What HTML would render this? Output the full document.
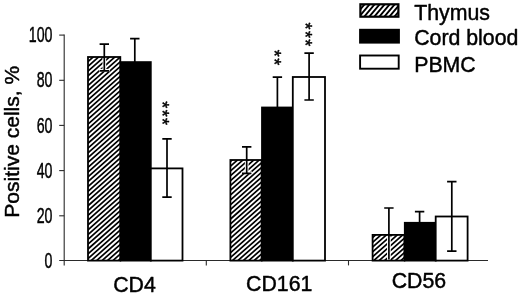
<!DOCTYPE html>
<html><head><meta charset="utf-8"><title>Positive cells chart</title>
<style>
html,body{margin:0;padding:0;background:#fff;}
body{width:520px;height:295px;overflow:hidden;}
svg{display:block;}
</style></head>
<body>
<svg width="520" height="295" viewBox="0 0 520 295">
<rect width="520" height="295" fill="#fff"/>
<g stroke="#2a2a2a" stroke-width="1.1" fill="none">
<path d="M64.2 34.6V265.6"/>
<path d="M59.2 260.5H488"/>
<path d="M59.2 35.1H64.2"/>
<path d="M59.2 80.3H64.2"/>
<path d="M59.2 125.4H64.2"/>
<path d="M59.2 170.6H64.2"/>
<path d="M59.2 215.8H64.2"/>
<path d="M206.3 260.5V265.4"/>
<path d="M348.5 260.5V265.4"/>
</g>
<rect x="88.00" y="57.00" width="32.30" height="203.60" fill="#fff"/>
<clipPath id="c1"><rect x="88.00" y="57.00" width="32.30" height="203.60"/></clipPath><path clip-path="url(#c1)" d="M-34.68 160.46L122.71 21.21M-32.29 163.16L125.10 23.91M-29.90 165.85L127.49 26.60M-27.52 168.55L129.87 29.30M-25.13 171.24L132.26 32.00M-22.75 173.94L134.64 34.69M-20.36 176.64L137.03 37.39M-17.98 179.33L139.41 40.09M-15.59 182.03L141.80 42.78M-13.21 184.72L144.18 45.48M-10.82 187.42L146.57 48.17M-8.44 190.12L148.95 50.87M-6.05 192.81L151.34 53.57M-3.66 195.51L153.73 56.26M-1.28 198.21L156.11 58.96M1.11 200.90L158.50 61.66M3.49 203.60L160.88 64.35M5.88 206.29L163.27 67.05M8.26 208.99L165.65 69.74M10.65 211.69L168.04 72.44M13.03 214.38L170.42 75.14M15.42 217.08L172.81 77.83M17.80 219.78L175.19 80.53M20.19 222.47L177.58 83.23M22.58 225.17L179.97 85.92M24.96 227.86L182.35 88.62M27.35 230.56L184.74 91.31M29.73 233.26L187.12 94.01M32.12 235.95L189.51 96.71M34.50 238.65L191.89 99.40M36.89 241.35L194.28 102.10M39.27 244.04L196.66 104.80M41.66 246.74L199.05 107.49M44.04 249.43L201.43 110.19M46.43 252.13L203.82 112.88M48.81 254.83L206.21 115.58M51.20 257.52L208.59 118.28M53.59 260.22L210.98 120.97M55.97 262.92L213.36 123.67M58.36 265.61L215.75 126.37M60.74 268.31L218.13 129.06M63.13 271.00L220.52 131.76M65.51 273.70L222.90 134.45M67.90 276.40L225.29 137.15M70.28 279.09L227.67 139.85M72.67 281.79L230.06 142.54M75.05 284.49L232.44 145.24M77.44 287.18L234.83 147.93M79.83 289.88L237.22 150.63M82.21 292.57L239.60 153.33M84.60 295.27L241.99 156.02M86.98 297.97L244.37 158.72" stroke="#000" stroke-width="1.70" fill="none"/>
<rect x="88.00" y="57.00" width="32.30" height="203.60" fill="none" stroke="#000" stroke-width="1.80"/>
<rect x="119.80" y="61.20" width="31.90" height="200.30" fill="#000"/>
<rect x="150.80" y="168.40" width="31.70" height="92.20" fill="#fff" stroke="#000" stroke-width="1.80"/>
<rect x="230.40" y="160.00" width="31.20" height="100.60" fill="#fff"/>
<clipPath id="c4"><rect x="230.40" y="160.00" width="31.20" height="100.60"/></clipPath><path clip-path="url(#c4)" d="M169.21 206.00L251.09 133.55M171.59 208.69L253.47 136.25M173.98 211.39L255.86 138.95M176.36 214.08L258.24 141.64M178.75 216.78L260.63 144.34M181.13 219.48L263.01 147.03M183.52 222.17L265.40 149.73M185.90 224.87L267.78 152.43M188.29 227.57L270.17 155.12M190.67 230.26L272.56 157.82M193.06 232.96L274.94 160.52M195.44 235.65L277.33 163.21M197.83 238.35L279.71 165.91M200.22 241.05L282.10 168.60M202.60 243.74L284.48 171.30M204.99 246.44L286.87 174.00M207.37 249.14L289.25 176.69M209.76 251.83L291.64 179.39M212.14 254.53L294.02 182.09M214.53 257.22L296.41 184.78M216.91 259.92L298.79 187.48M219.30 262.62L301.18 190.17M221.68 265.31L303.57 192.87M224.07 268.01L305.95 195.57M226.46 270.71L308.34 198.26M228.84 273.40L310.72 200.96M231.23 276.10L313.11 203.66M233.61 278.79L315.49 206.35M236.00 281.49L317.88 209.05M238.38 284.19L320.26 211.74M240.77 286.88L322.65 214.44" stroke="#000" stroke-width="1.70" fill="none"/>
<rect x="230.40" y="160.00" width="31.20" height="100.60" fill="none" stroke="#000" stroke-width="1.80"/>
<rect x="261.10" y="106.60" width="32.60" height="154.90" fill="#000"/>
<rect x="292.80" y="77.00" width="32.20" height="183.60" fill="#fff" stroke="#000" stroke-width="1.80"/>
<rect x="372.60" y="234.90" width="31.80" height="25.70" fill="#fff"/>
<clipPath id="c7"><rect x="372.60" y="234.90" width="31.80" height="25.70"/></clipPath><path clip-path="url(#c7)" d="M354.87 243.61L388.49 213.87M357.26 246.31L390.88 216.57M359.64 249.00L393.26 219.26M362.03 251.70L395.65 221.96M364.41 254.40L398.03 224.65M366.80 257.09L400.42 227.35M369.19 259.79L402.80 230.05M371.57 262.49L405.19 232.74M373.96 265.18L407.57 235.44M376.34 267.88L409.96 238.13M378.73 270.57L412.35 240.83M381.11 273.27L414.73 243.53M383.50 275.97L417.12 246.22M385.88 278.66L419.50 248.92M388.27 281.36L421.89 251.62" stroke="#000" stroke-width="1.70" fill="none"/>
<rect x="372.60" y="234.90" width="31.80" height="25.70" fill="none" stroke="#000" stroke-width="1.80"/>
<rect x="403.90" y="221.90" width="32.70" height="39.60" fill="#000"/>
<rect x="435.70" y="216.50" width="31.90" height="44.10" fill="#fff" stroke="#000" stroke-width="1.80"/>
<path d="M104.30 58.00V70.80" stroke="#fff" stroke-width="3.7" fill="none"/>
<path d="M99.00 70.20H109.60" stroke="#fff" stroke-width="2.6" fill="none"/>
<path d="M99.60 44.20H109.00M104.30 44.20V70.80M99.60 70.80H109.00" stroke="#000" stroke-width="1.7" fill="none"/>
<path d="M130.10 38.70H139.50M134.80 38.70V68.70" stroke="#000" stroke-width="1.7" fill="none"/>
<path d="M162.30 138.80H171.70M167.00 138.80V197.10M162.30 197.10H171.70" stroke="#000" stroke-width="1.7" fill="none"/>
<path d="M246.70 161.00V173.40" stroke="#fff" stroke-width="3.7" fill="none"/>
<path d="M241.40 172.80H252.00" stroke="#fff" stroke-width="2.6" fill="none"/>
<path d="M242.00 146.80H251.40M246.70 146.80V173.40M242.00 173.40H251.40" stroke="#000" stroke-width="1.7" fill="none"/>
<path d="M272.70 77.20H282.10M277.40 77.20V107.20" stroke="#000" stroke-width="1.7" fill="none"/>
<path d="M304.40 53.10H313.80M309.10 53.10V100.00M304.40 100.00H313.80" stroke="#000" stroke-width="1.7" fill="none"/>
<path d="M388.90 236.30V259.50" stroke="#fff" stroke-width="3.7" fill="none"/>
<path d="M384.20 208.00H393.60M388.90 208.00V259.50" stroke="#000" stroke-width="1.7" fill="none"/>
<path d="M414.90 211.70H424.30M419.60 211.70V241.70" stroke="#000" stroke-width="1.7" fill="none"/>
<path d="M447.10 181.70H456.50M451.80 181.70V251.20M447.10 251.20H456.50" stroke="#000" stroke-width="1.7" fill="none"/>
<rect x="360.4" y="4.3" width="38.0" height="12.4" fill="#fff"/>
<clipPath id="cl"><rect x="360.40" y="4.30" width="38.00" height="12.40"/></clipPath><path clip-path="url(#cl)" d="M347.62 12.53L375.89 -21.15M350.57 15.01L378.83 -18.68M353.52 17.48L381.78 -16.20M356.47 19.96L384.73 -13.73M359.42 22.43L387.68 -11.25M362.37 24.91L390.63 -8.78M365.32 27.38L393.58 -6.30M368.27 29.86L396.53 -3.83M371.21 32.33L399.48 -1.35M374.16 34.81L402.43 1.12M377.11 37.28L405.38 3.60M380.06 39.76L408.33 6.07M383.01 42.23L411.28 8.55" stroke="#000" stroke-width="1.90" fill="none"/>
<rect x="360.4" y="4.3" width="38.0" height="12.4" fill="none" stroke="#000" stroke-width="2.2"/>
<rect x="359.1" y="28.8" width="40.8" height="14.8" fill="#000"/>
<rect x="360.1" y="55.5" width="38.6" height="13.2" fill="#fff" stroke="#000" stroke-width="1.9"/>
<g style="font-family:'Liberation Sans',Arial,sans-serif" fill="#000" stroke="#000" stroke-width="0.45" stroke-linejoin="round">
<text transform="translate(414.20 20.00) scale(1.000 1.000)" font-size="21.3" text-anchor="start">Thymus</text>
<text transform="translate(414.20 45.40) scale(1.000 1.000)" font-size="21.3" text-anchor="start">Cord blood</text>
<text transform="translate(414.20 71.50) scale(1.000 1.040)" font-size="21.3" text-anchor="start">PBMC</text>
<text transform="translate(134.50 291.50) scale(1.000 1.030)" font-size="21.3" text-anchor="middle">CD4</text>
<text transform="translate(279.20 290.60) scale(1.000 1.030)" font-size="21.3" text-anchor="middle">CD161</text>
<text transform="translate(418.90 288.30) scale(1.000 1.050)" font-size="21.3" text-anchor="middle">CD56</text>
<text transform="translate(18.60 141.80) rotate(-90) scale(1.000 1.000)" font-size="21.0" text-anchor="middle">Positive cells, %</text>
<text transform="translate(156.30 113.90) rotate(90) scale(1.000 1.030)" font-size="18.0" text-anchor="middle" letter-spacing="1.40">***</text>
<text transform="translate(268.00 58.20) rotate(90) scale(1.000 1.030)" font-size="18.0" text-anchor="middle" letter-spacing="1.40">**</text>
<text transform="translate(299.00 35.10) rotate(90) scale(1.000 1.030)" font-size="18.0" text-anchor="middle" letter-spacing="1.40">***</text>
<text transform="translate(52.50 42.20) scale(0.655 1.020)" font-size="21.7" text-anchor="end">100</text>
<text transform="translate(52.50 87.40) scale(0.655 1.020)" font-size="21.7" text-anchor="end">80</text>
<text transform="translate(52.50 132.50) scale(0.655 1.020)" font-size="21.7" text-anchor="end">60</text>
<text transform="translate(52.50 177.70) scale(0.655 1.020)" font-size="21.7" text-anchor="end">40</text>
<text transform="translate(52.50 222.90) scale(0.655 1.020)" font-size="21.7" text-anchor="end">20</text>
<text transform="translate(52.50 267.60) scale(0.655 1.020)" font-size="21.7" text-anchor="end">0</text>
</g>
</svg>
</body></html>
